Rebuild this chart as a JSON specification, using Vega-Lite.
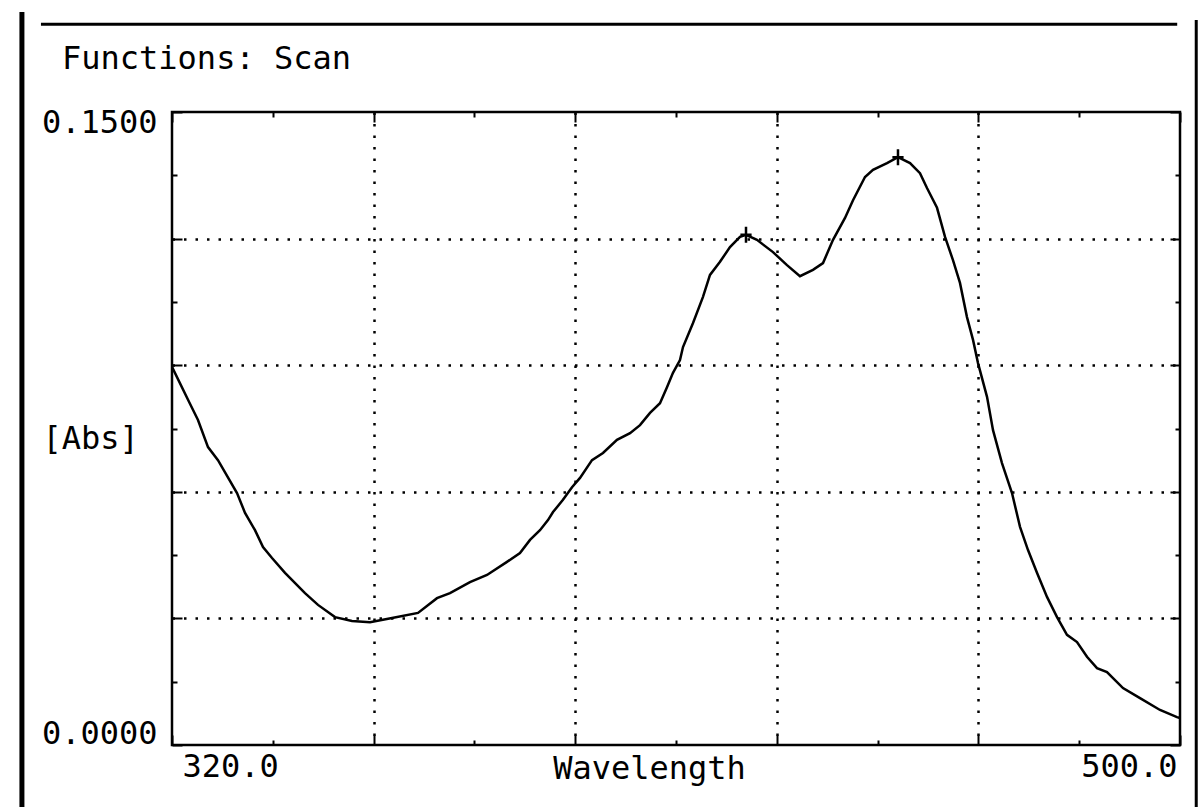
{
  "$schema": "https://vega.github.io/schema/vega-lite/v6.json",
  "width": 1008,
  "height": 633,
  "autosize": "none",
  "padding": {"left": 172, "top": 112, "right": 23, "bottom": 62},
  "background": "white",
  "title": {
    "text": "Functions: Scan",
    "anchor": "start",
    "frame": "group",
    "dx": -110,
    "offset": -92,
    "baseline": "alphabetic",
    "font": "DejaVu Sans Mono",
    "fontSize": 32,
    "fontWeight": "normal",
    "color": "black"
  },
  "config": {
    "view": {"stroke": "black", "strokeWidth": 2.5},
    "axis": {
      "domain": false,
      "tickColor": "black",
      "tickWidth": 2,
      "labelColor": "black",
      "labelFont": "DejaVu Sans Mono",
      "labelFontSize": 32,
      "titleFont": "DejaVu Sans Mono",
      "titleFontSize": 32,
      "titleFontWeight": "normal",
      "titleColor": "black",
      "labelOverlap": false
    }
  },
  "datasets": {
    "scan": [
      {"wavelength": 320.0, "abs": 0.0896},
      {"wavelength": 322.86, "abs": 0.0818},
      {"wavelength": 324.64, "abs": 0.0770},
      {"wavelength": 326.43, "abs": 0.0706},
      {"wavelength": 328.21, "abs": 0.0675},
      {"wavelength": 331.61, "abs": 0.0597},
      {"wavelength": 333.04, "abs": 0.0550},
      {"wavelength": 334.82, "abs": 0.0509},
      {"wavelength": 336.25, "abs": 0.0469},
      {"wavelength": 337.86, "abs": 0.0443},
      {"wavelength": 340.18, "abs": 0.0408},
      {"wavelength": 343.75, "abs": 0.0360},
      {"wavelength": 346.07, "abs": 0.0332},
      {"wavelength": 349.11, "abs": 0.0303},
      {"wavelength": 352.14, "abs": 0.0294},
      {"wavelength": 355.36, "abs": 0.0291},
      {"wavelength": 359.29, "abs": 0.0301},
      {"wavelength": 363.93, "abs": 0.0313},
      {"wavelength": 367.32, "abs": 0.0348},
      {"wavelength": 369.64, "abs": 0.0360},
      {"wavelength": 373.21, "abs": 0.0386},
      {"wavelength": 376.25, "abs": 0.0403},
      {"wavelength": 379.82, "abs": 0.0434},
      {"wavelength": 382.14, "abs": 0.0455},
      {"wavelength": 383.93, "abs": 0.0486},
      {"wavelength": 385.71, "abs": 0.0509},
      {"wavelength": 387.14, "abs": 0.0533},
      {"wavelength": 388.04, "abs": 0.0552},
      {"wavelength": 389.82, "abs": 0.0581},
      {"wavelength": 391.43, "abs": 0.0611},
      {"wavelength": 392.86, "abs": 0.0633},
      {"wavelength": 395.0, "abs": 0.0675},
      {"wavelength": 396.96, "abs": 0.0692},
      {"wavelength": 399.46, "abs": 0.0723},
      {"wavelength": 401.79, "abs": 0.0739},
      {"wavelength": 403.57, "abs": 0.0758},
      {"wavelength": 405.36, "abs": 0.0787},
      {"wavelength": 407.14, "abs": 0.0810},
      {"wavelength": 408.39, "abs": 0.0848},
      {"wavelength": 409.46, "abs": 0.0882},
      {"wavelength": 410.71, "abs": 0.0912},
      {"wavelength": 411.25, "abs": 0.0943},
      {"wavelength": 413.04, "abs": 0.1000},
      {"wavelength": 414.82, "abs": 0.1062},
      {"wavelength": 416.07, "abs": 0.1114},
      {"wavelength": 417.86, "abs": 0.1145},
      {"wavelength": 419.64, "abs": 0.1180},
      {"wavelength": 421.43, "abs": 0.1204},
      {"wavelength": 422.5, "abs": 0.1209},
      {"wavelength": 424.46, "abs": 0.1197},
      {"wavelength": 427.32, "abs": 0.1168},
      {"wavelength": 429.82, "abs": 0.1137},
      {"wavelength": 432.14, "abs": 0.1111},
      {"wavelength": 434.46, "abs": 0.1126},
      {"wavelength": 436.25, "abs": 0.1142},
      {"wavelength": 438.04, "abs": 0.1197},
      {"wavelength": 440.18, "abs": 0.1249},
      {"wavelength": 441.61, "abs": 0.1291},
      {"wavelength": 443.75, "abs": 0.1346},
      {"wavelength": 445.18, "abs": 0.1363},
      {"wavelength": 447.68, "abs": 0.1379},
      {"wavelength": 449.64, "abs": 0.1393},
      {"wavelength": 451.79, "abs": 0.1379},
      {"wavelength": 453.57, "abs": 0.1355},
      {"wavelength": 454.82, "abs": 0.1320},
      {"wavelength": 456.61, "abs": 0.1273},
      {"wavelength": 458.04, "abs": 0.1204},
      {"wavelength": 459.46, "abs": 0.1149},
      {"wavelength": 460.71, "abs": 0.1095},
      {"wavelength": 461.96, "abs": 0.1014},
      {"wavelength": 463.04, "abs": 0.0960},
      {"wavelength": 463.93, "abs": 0.0905},
      {"wavelength": 465.54, "abs": 0.0825},
      {"wavelength": 466.61, "abs": 0.0746},
      {"wavelength": 468.21, "abs": 0.0668},
      {"wavelength": 470.0, "abs": 0.0597},
      {"wavelength": 471.43, "abs": 0.0517},
      {"wavelength": 472.86, "abs": 0.0462},
      {"wavelength": 474.46, "abs": 0.0408},
      {"wavelength": 476.25, "abs": 0.0351},
      {"wavelength": 478.04, "abs": 0.0303},
      {"wavelength": 479.82, "abs": 0.0261},
      {"wavelength": 481.61, "abs": 0.0244},
      {"wavelength": 483.39, "abs": 0.0209},
      {"wavelength": 485.18, "abs": 0.0182},
      {"wavelength": 486.96, "abs": 0.0173},
      {"wavelength": 489.82, "abs": 0.0135},
      {"wavelength": 492.86, "abs": 0.0111},
      {"wavelength": 496.43, "abs": 0.0083},
      {"wavelength": 499.46, "abs": 0.0066},
      {"wavelength": 500.0, "abs": 0.0064}
    ],
    "peaks": [
      {"wavelength": 422.5, "abs": 0.1209},
      {"wavelength": 449.64, "abs": 0.1393}
    ]
  },
  "layer": [
    {
      "data": {"name": "scan"},
      "mark": {"type": "line", "color": "black", "strokeWidth": 2.5, "interpolate": "linear"},
      "encoding": {
        "x": {
          "field": "wavelength",
          "type": "quantitative",
          "scale": {"domain": [320, 500], "nice": false, "zero": false},
          "axis": {
            "orient": "bottom",
            "values": [320, 338, 356, 374, 392, 410, 428, 446, 464, 482, 500],
            "grid": true,
            "gridColor": "black",
            "gridDash": [2.5, 9],
            "gridWidth": 2.5,
            "gridOpacity": {"condition": {"test": "datum.value > 320 && datum.value < 500 && (datum.value - 320) % 36 == 0", "value": 1}, "value": 0},
            "ticks": true,
            "tickSize": {"condition": {"test": "(datum.value - 320) % 36 == 0", "value": -10}, "value": -5},
            "labelExpr": "datum.value == 320 || datum.value == 500 ? format(datum.value, '.1f') : ''",
            "labelFlush": true,
            "labelOffset": {"condition": {"test": "datum.value == 320", "value": 10}, "value": -3},
            "labelPadding": 16,
            "title": "Wavelength",
            "titleX": 477,
            "titleY": 8,
            "titleBaseline": "top",
            "titleAlign": "center"
          }
        },
        "y": {
          "field": "abs",
          "type": "quantitative",
          "scale": {"domain": [0, 0.15], "nice": false, "zero": true},
          "axis": {
            "orient": "left",
            "values": [0, 0.015, 0.03, 0.045, 0.06, 0.075, 0.09, 0.105, 0.12, 0.135, 0.15],
            "grid": true,
            "gridColor": "black",
            "gridDash": [2.5, 9],
            "gridWidth": 2.5,
            "gridOpacity": {"condition": {"test": "datum.value > 0.001 && datum.value < 0.149 && round(datum.value / 0.015) % 2 == 0", "value": 1}, "value": 0},
            "ticks": true,
            "tickSize": {"condition": {"test": "round(datum.value / 0.015) % 2 == 0", "value": -10}, "value": -5},
            "labelExpr": "datum.value < 0.001 || datum.value > 0.149 ? format(datum.value, '.4f') : ''",
            "labelFlush": true,
            "labelFlushOffset": 5,
            "labelPadding": 25,
            "title": "[Abs]",
            "titleAngle": 0,
            "titleX": -130,
            "titleY": 326,
            "titleAlign": "left",
            "titleBaseline": "middle"
          }
        }
      }
    },
    {
      "data": {"name": "peaks"},
      "mark": {"type": "point", "shape": "M-0.7,0H0.7M0,-1V1", "filled": false, "stroke": "black", "strokeWidth": 2.5, "size": 256, "opacity": 1},
      "encoding": {
        "x": {
          "field": "wavelength",
          "type": "quantitative",
          "axis": {
            "orient": "top",
            "values": [320, 338, 356, 374, 392, 410, 428, 446, 464, 482, 500],
            "grid": false,
            "labels": false,
            "title": null,
            "tickSize": {"condition": {"test": "(datum.value - 320) % 36 == 0", "value": -10}, "value": -5}
          }
        },
        "y": {
          "field": "abs",
          "type": "quantitative",
          "axis": {
            "orient": "right",
            "values": [0, 0.015, 0.03, 0.045, 0.06, 0.075, 0.09, 0.105, 0.12, 0.135, 0.15],
            "grid": false,
            "labels": false,
            "title": null,
            "tickSize": {"condition": {"test": "round(datum.value / 0.015) % 2 == 0", "value": -10}, "value": -5}
          }
        }
      }
    },
    {
      "data": {"values": [{}]},
      "mark": {"type": "rule", "color": "black", "strokeWidth": 5, "clip": false},
      "encoding": {
        "x": {"datum": 293.2, "axis": null},
        "y": {"datum": 0.1737, "axis": null},
        "y2": {"datum": -0.016}
      }
    },
    {
      "data": {"values": [{}]},
      "mark": {"type": "rule", "color": "black", "strokeWidth": 3, "clip": false},
      "encoding": {
        "x": {"datum": 296.6, "axis": null},
        "x2": {"datum": 499.5},
        "y": {"datum": 0.1708, "axis": null}
      }
    },
    {
      "data": {"values": [{}]},
      "mark": {"type": "rule", "color": "black", "strokeWidth": 3, "clip": false},
      "encoding": {
        "x": {"datum": 502.9, "axis": null},
        "y": {"datum": 0.1718, "axis": null},
        "y2": {"datum": -0.016}
      }
    }
  ],
  "resolve": {"axis": {"x": "independent", "y": "independent"}}
}
